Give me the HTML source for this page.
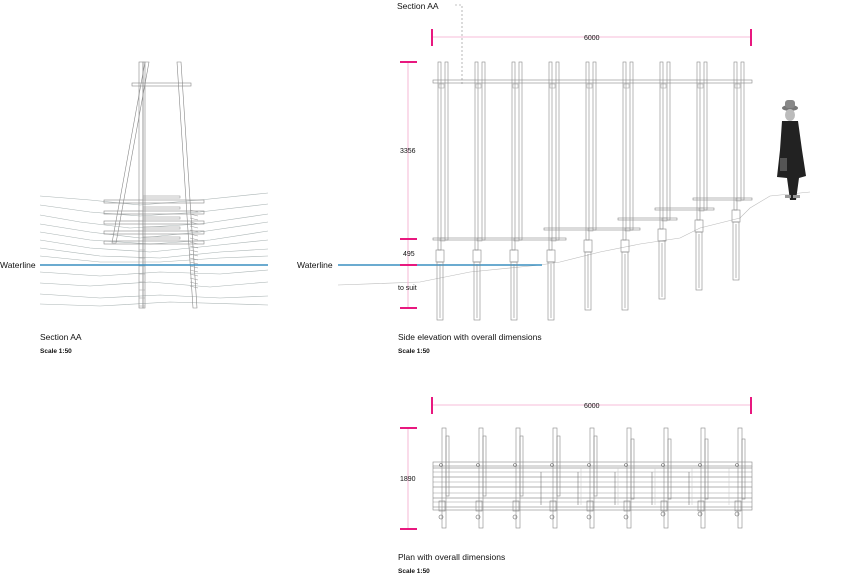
<!DOCTYPE html>
<html><head><meta charset="utf-8"><style>
html,body{margin:0;padding:0;background:#fff;width:846px;height:575px;overflow:hidden}
svg{display:block}
text{font-family:"Liberation Sans",sans-serif;fill:#111}
</style></head><body>
<svg id="s" width="846" height="575" viewBox="0 0 846 575" xmlns="http://www.w3.org/2000/svg">
<g id="g" fill="none" stroke="#888" stroke-width="0.6"></g>
<!-- labels -->
<text x="397" y="9" font-size="8.5">Section AA</text>
<polyline points="455,5 462,5 462,86" fill="none" stroke="#888" stroke-width="0.6" stroke-dasharray="2,2"/>
<text x="0" y="268" font-size="8.5">Waterline</text>
<text x="297" y="268" font-size="8.5">Waterline</text>
<text x="400" y="153" font-size="7">3356</text>
<text x="403" y="256" font-size="7">495</text>
<text x="398" y="290" font-size="7">to suit</text>
<text x="400" y="481" font-size="7">1890</text>
<text x="584" y="40" font-size="7">6000</text>
<text x="584" y="408" font-size="7">6000</text>
<text x="40" y="340" font-size="8.5">Section AA</text>
<text x="40" y="353" font-size="6.5" font-weight="bold">Scale 1:50</text>
<text x="398" y="340" font-size="8.5">Side elevation with overall dimensions</text>
<text x="398" y="353" font-size="6.5" font-weight="bold">Scale 1:50</text>
<text x="398" y="560" font-size="8.5">Plan with overall dimensions</text>
<text x="398" y="573" font-size="6.5" font-weight="bold">Scale 1:50</text>
<!-- person -->
<g fill="#222">
<ellipse cx="790" cy="108" rx="8" ry="3" fill="#777"/>
<rect x="785" y="100" width="10" height="8" rx="3" fill="#888"/>
<ellipse cx="790" cy="115" rx="5" ry="6" fill="#bbb"/>
<path d="M782,121 L798,121 L802,150 L806,176 L799,178 L796,200 L790,200 L787,178 L777,177 L780,150 Z"/>
<rect x="780" y="158" width="7" height="13" fill="#555"/>
<rect x="785" y="195" width="6" height="3" fill="#999"/>
<rect x="793" y="195" width="7" height="3" fill="#999"/>
</g>
</svg>
<script>
var g=document.getElementById('g'),NS='http://www.w3.org/2000/svg';
function el(t,a,p){var e=document.createElementNS(NS,t);for(var k in a)e.setAttribute(k,a[k]);(p||g).appendChild(e);return e;}
function R(x,y,w,h,s){el('rect',{x:x,y:y,width:w,height:h,stroke:s||'#888'});}
function L(x1,y1,x2,y2,s,w){el('line',{x1:x1,y1:y1,x2:x2,y2:y2,stroke:s||'#888','stroke-width':w||0.6});}
function P(pts,s,w){el('polyline',{points:pts,stroke:s||'#aab4b4','stroke-width':w||0.6,fill:'none'});}
var pink='#e8187f',lp='#f4a6cc';
// ---- Section AA ----
var waves=[[40,196,90,200,140,205,200,200,268,193],[40,205,90,212,140,216,200,212,268,204],[40,215,80,222,130,228,200,224,268,214],[40,224,90,232,140,238,200,232,268,222],[40,232,90,240,150,244,210,240,268,231],[40,240,90,248,150,252,210,246,268,240],[40,248,100,256,160,258,220,252,268,249],[40,256,100,262,160,262,220,258,268,256],[40,272,100,276,160,272,220,274,268,270],[40,283,90,286,150,282,210,287,268,282],[40,294,100,298,160,295,220,298,268,296],[40,304,100,306,170,302,268,305]];
waves.forEach(function(w){var s='';for(var i=0;i<w.length;i+=2)s+=w[i]+','+w[i+1]+' ';P(s);});
R(139,62,4,246);R(143,62,2,246);
el('polygon',{points:'145,62 149,62 116,243 112,243',stroke:'#888'});
el('polygon',{points:'177,62 181,62 197,308 193,308',stroke:'#888'});
R(132,83,59,3);
[200,211,221,231,241].forEach(function(y){R(104,y,100,3);R(143,y-4,37,2,'#999');});
for(var y=250;y<308;y+=8){L(139,y,145,y,'#aaa');}
for(var y=210;y<290;y+=4){L(190,y,198,y+2,'#999');}
L(40,265,268,265,'#3a8fc0',1.4);
// ---- Side elevation ----
P('338,285 420,282 470,272 540,265 560,262 600,252 640,244 680,238 700,228 740,218 750,208 770,196 790,194 810,192','#bbb',0.6);
L(338,265,542,265,'#3a8fc0',1.4);
var foot=[250,250,250,250,240,240,229,220,210];
var lowb=[240,240,240,240,230,230,220,210,200];
for(var i=0;i<9;i++){var x=438+37*i;
 R(x,62,3,foot[i]-62);R(x+7,62,3,lowb[i]-62);
 R(x+1,84,5,4,'#aaa');R(x+2,lowb[i]-2,5,3,'#aaa');
 R(x-2,foot[i],8,12);R(x-1,foot[i]+12,6,58);L(x+2,foot[i]+14,x+2,foot[i]+68,'#888');
}
R(433,80,319,3);
R(433,238,133,2);R(544,228,96,2);R(618,218,59,2);R(655,208,59,2);R(693,198,59,2);
// dims
L(432,37,751,37,lp,0.8);L(432,29,432,46,pink,2);L(751,29,751,46,pink,2);
L(408,62,408,308,lp,0.8);
[62,239,265,308].forEach(function(y){L(400,y,417,y,pink,2);});
// ---- Plan ----
L(432,405,751,405,lp,0.8);L(432,397,432,414,pink,2);L(751,397,751,414,pink,2);
L(408,428,408,529,lp,0.8);L(400,428,417,428,pink,2);L(400,529,417,529,pink,2);
R(433,462,319,4);R(433,507,319,3);
[468,472,477,482,487,493,498,502].forEach(function(y,j){L(433,y,752,y,j%2?'#999':'#666',0.6);});
L(433,466,433,507);L(752,466,752,507);
for(var i=0;i<9;i++){var x=442+37*i;
 R(x,428,4,100);R(x+4,436+(i>4?3:0),3,60);
 R(x-3,501,6,10);
 el('circle',{cx:x-1,cy:465,r:1.5,stroke:'#666'},g);
 el('circle',{cx:x-1,cy:517+(i>5?-3:0),r:2,stroke:'#666'},g);
 if(i>2&&i<8){L(x-12,472,x-12,505,'#777');L(x+28,468,x+28,505,'#ccc');}
}
</script>
</body></html>
